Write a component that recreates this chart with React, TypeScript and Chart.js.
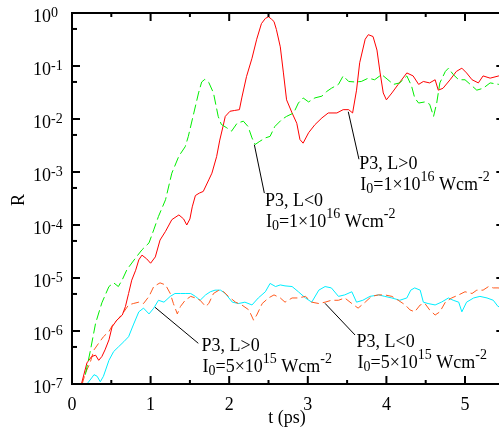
import React, { useEffect, useRef } from "react";
import { Chart, registerables } from "chart.js";

Chart.register(...registerables);

// ---- Data (t in ps, R) ----
const tRed = [0.12,0.19,0.25,0.30,0.34,0.38,0.42,0.47,0.51,0.57,0.64,0.68,0.72,0.76,0.81,0.85,0.89,0.95,1.00,1.06,1.12,1.19,1.27,1.36,1.42,1.46,1.50,1.53,1.57,1.62,1.67,1.74,1.78,1.84,1.88,1.92,1.95,2.01,2.07,2.13,2.16,2.22,2.29,2.35,2.41,2.46,2.50,2.54,2.57,2.60,2.65,2.69,2.73,2.80,2.86,2.90,2.94,3.01,3.09,3.18,3.26,3.37,3.45,3.52,3.57,3.62,3.66,3.73,3.77,3.83,3.88,3.92,3.96,4.00,4.07,4.15,4.26,4.34,4.41,4.47,4.55,4.62,4.66,4.72,4.81,4.89,4.96,5.02,5.09,5.17,5.23,5.32,5.43,5.50];
const rRed = [1.0e-7,2.5e-7,3.3e-7,3.5e-7,2.8e-7,3.3e-7,4.4e-7,6.8e-7,1.2e-6,1.6e-6,2.0e-6,2.9e-6,5.1e-6,9.1e-6,1.4e-5,2.2e-5,2.7e-5,2.3e-5,1.9e-5,2.5e-5,5.2e-5,7.6e-5,1.26e-4,1.55e-4,1.3e-4,1.0e-4,1.3e-4,2.2e-4,3.6e-4,4.0e-4,4.3e-4,7.1e-4,9.5e-4,1.95e-3,4.0e-3,7.1e-3,1.12e-2,1.4e-2,1.45e-2,1.5e-2,2.5e-2,6.3e-2,0.14,0.32,0.63,0.79,0.85,0.76,0.69,0.49,0.23,7.4e-2,2.3e-2,1.3e-2,8.3e-3,4.1e-3,3.5e-3,5.5e-3,7.8e-3,1.05e-2,1.3e-2,1.3e-2,1.5e-2,1.5e-2,1.3e-2,3.5e-2,0.115,0.32,0.39,0.36,0.20,7.4e-2,3.1e-2,2.3e-2,3.1e-2,4.5e-2,7.4e-2,6.5e-2,4.5e-2,5.1e-2,4.8e-2,5.5e-2,3.5e-2,3.8e-2,5.5e-2,7.9e-2,9.1e-2,7.4e-2,5.5e-2,4.8e-2,6.5e-2,5.9e-2,6.5e-2,6.2e-2];

const tGreen = [0.17,0.23,0.30,0.38,0.47,0.53,0.59,0.64,0.70,0.81,0.89,0.98,1.04,1.10,1.19,1.27,1.36,1.44,1.48,1.55,1.61,1.65,1.69,1.74,1.80,1.86,1.90,1.97,2.03,2.10,2.18,2.24,2.29,2.33,2.39,2.46,2.52,2.58,2.67,2.73,2.82,2.88,2.94,3.01,3.09,3.18,3.24,3.30,3.39,3.45,3.52,3.60,3.68,3.77,3.85,3.94,4.02,4.09,4.17,4.26,4.32,4.36,4.41,4.49,4.55,4.60,4.64,4.68,4.75,4.79,4.85,4.92,5.00,5.09,5.15,5.23,5.32,5.43,5.50];
const rGreen = [1.5e-7,4.0e-7,1.4e-6,3.4e-6,6.9e-6,8.1e-6,6.9e-6,9.3e-6,1.45e-5,2.4e-5,3.4e-5,4.6e-5,8.1e-5,1.45e-4,3.0e-4,9.5e-4,2.0e-3,3.0e-3,4.7e-3,1.3e-2,3.1e-2,5.0e-2,5.6e-2,4.9e-2,3.1e-2,1.12e-2,7.9e-3,6.8e-3,5.9e-3,8.3e-3,9.1e-3,7.2e-3,4.4e-3,3.3e-3,3.8e-3,4.4e-3,4.7e-3,7.2e-3,9.8e-3,1.12e-2,1.3e-2,2.0e-2,2.5e-2,2.1e-2,2.5e-2,2.7e-2,3.3e-2,3.8e-2,4.5e-2,6.5e-2,5.1e-2,5.0e-2,5.1e-2,5.9e-2,5.5e-2,6.9e-2,5.5e-2,4.5e-2,4.8e-2,6.5e-2,4.2e-2,2.5e-2,2.0e-2,2.1e-2,1.9e-2,1.12e-2,2.0e-2,4.8e-2,7.9e-2,9.1e-2,6.9e-2,5.5e-2,5.5e-2,4.2e-2,3.5e-2,3.8e-2,4.8e-2,4.5e-2,4.4e-2];

const tOrange = [0.13,0.17,0.23,0.28,0.34,0.40,0.47,0.53,0.59,0.66,0.72,0.78,0.85,0.91,0.98,1.04,1.12,1.19,1.25,1.29,1.34,1.38,1.44,1.51,1.57,1.63,1.70,1.74,1.80,1.87,1.93,1.99,2.08,2.16,2.25,2.31,2.35,2.42,2.50,2.57,2.65,2.71,2.80,2.88,2.97,3.05,3.14,3.22,3.30,3.39,3.47,3.56,3.64,3.73,3.81,3.90,3.98,4.07,4.15,4.24,4.30,4.36,4.43,4.49,4.55,4.62,4.68,4.75,4.83,4.92,5.00,5.09,5.15,5.23,5.30,5.36,5.42,5.50];
const rOrange = [1.0e-7,1.6e-7,2.5e-7,4.4e-7,5.9e-7,7.8e-7,9.8e-7,1.4e-6,1.7e-6,2.3e-6,3.1e-6,3.3e-6,3.5e-6,3.3e-6,4.5e-6,6.9e-6,8.1e-6,7.4e-6,5.1e-6,3.3e-6,2.1e-6,2.9e-6,3.8e-6,4.5e-6,4.2e-6,3.8e-6,2.9e-6,3.3e-6,5.1e-6,5.9e-6,5.5e-6,4.5e-6,3.5e-6,3.1e-6,2.5e-6,1.6e-6,2.0e-6,3.3e-6,4.2e-6,4.8e-6,4.2e-6,3.5e-6,4.2e-6,4.2e-6,4.5e-6,3.5e-6,3.3e-6,3.5e-6,3.8e-6,3.8e-6,4.2e-6,3.3e-6,2.7e-6,3.5e-6,4.5e-6,4.8e-6,4.8e-6,4.5e-6,3.8e-6,3.1e-6,2.5e-6,2.3e-6,3.1e-6,3.3e-6,2.5e-6,2.0e-6,2.3e-6,3.5e-6,4.2e-6,4.8e-6,5.5e-6,5.1e-6,5.9e-6,5.9e-6,6.9e-6,6.5e-6,6.5e-6,6.3e-6];

const tCyan = [0.19,0.25,0.28,0.32,0.36,0.40,0.47,0.53,0.59,0.66,0.72,0.78,0.85,0.91,0.98,1.04,1.10,1.17,1.25,1.31,1.38,1.44,1.51,1.57,1.63,1.70,1.76,1.82,1.89,1.95,2.04,2.12,2.20,2.29,2.37,2.46,2.52,2.59,2.65,2.71,2.80,2.88,2.97,3.05,3.14,3.22,3.30,3.39,3.47,3.56,3.62,3.70,3.79,3.90,3.98,4.07,4.17,4.26,4.31,4.36,4.43,4.47,4.53,4.62,4.70,4.79,4.85,4.92,4.96,5.02,5.11,5.19,5.28,5.36,5.42,5.50];
const rCyan = [1.0e-7,1.3e-7,1.5e-7,1.4e-7,1.1e-7,1.4e-7,2.8e-7,4.1e-7,5.0e-7,6.3e-7,7.8e-7,1.3e-6,2.3e-6,2.7e-6,2.1e-6,2.7e-6,3.8e-6,3.5e-6,4.5e-6,5.1e-6,5.1e-6,5.1e-6,5.1e-6,4.5e-6,3.8e-6,4.8e-6,5.5e-6,5.9e-6,5.9e-6,5.1e-6,3.5e-6,3.3e-6,3.5e-6,3.1e-6,4.2e-6,5.5e-6,7.9e-6,6.9e-6,7.4e-6,7.1e-6,6.9e-6,5.5e-6,4.2e-6,3.5e-6,5.9e-6,6.9e-6,6.5e-6,4.5e-6,4.8e-6,5.5e-6,3.5e-6,3.8e-6,4.5e-6,4.8e-6,4.5e-6,4.2e-6,3.8e-6,4.2e-6,5.9e-6,6.5e-6,5.9e-6,3.5e-6,3.3e-6,3.1e-6,3.5e-6,4.2e-6,3.8e-6,3.5e-6,2.3e-6,3.5e-6,4.2e-6,4.5e-6,4.2e-6,3.8e-6,2.9e-6,2.8e-6];

// ---- Axes ----
const xMin = 0;
const xMax = 5.5;
const yMin = 1e-7;
const yMax = 1;
const xTickValues = [0, 1, 2, 3, 4, 5];
const xTickLabels = ["0", "1", "2", "3", "4", "5"];
const xMinorTicks = [0.5, 1.5, 2.5, 3.5, 4.5];
const yTickValues = [1, 1e-1, 1e-2, 1e-3, 1e-4, 1e-5, 1e-6, 1e-7];
const yTickExponents = ["0", "-1", "-2", "-3", "-4", "-5", "-6", "-7"];
const yMinorTicks = [5e-1, 5e-2, 5e-3, 5e-4, 5e-5, 5e-6, 5e-7];
const xTitle = "t (ps)";
const yTitle = "R";

// ---- Annotations: pointer from -> to, text anchor (data coordinates) ----
const annotations = [
  { from: [2.32, 3.27e-3], to: [2.447, 4.0e-4], text: [2.455, 2.31e-4], label: "P3, L<0", mant: "1", exp: "16" },
  { from: [3.515, 1.37e-2], to: [3.651, 1.74e-3], text: [3.655, 1.12e-3], label: "P3, L>0", mant: "1", exp: "16" },
  { from: [1.056, 2.8e-6], to: [1.607, 5.86e-7], text: [1.648, 4.25e-7], label: "P3, L>0", mant: "5", exp: "15" },
  { from: [3.219, 3.33e-6], to: [3.601, 8.4e-7], text: [3.62, 5.06e-7], label: "P3, L<0", mant: "5", exp: "15" },
];

const FONT = '"Liberation Serif", "DejaVu Serif", serif';

function pts(t: number[], r: number[]) {
  return t.map((v, i) => ({ x: v, y: r[i] }));
}

type Seg = { s: string; size: number; dy: number };

function drawRich(ctx: CanvasRenderingContext2D, x: number, y: number, segs: Seg[]) {
  let cx = x;
  for (const g of segs) {
    ctx.font = `${g.size}px ${FONT}`;
    ctx.fillText(g.s, cx, y + g.dy);
    cx += ctx.measureText(g.s).width;
  }
}

const framePlugin = {
  id: "gnuframe",
  afterDatasetsDraw(chart: any) {
    const ctx: CanvasRenderingContext2D = chart.ctx;
    const { left, right, top, bottom } = chart.chartArea;
    const xs = chart.scales.x;
    const ys = chart.scales.y;
    ctx.save();
    ctx.strokeStyle = "#000";
    ctx.fillStyle = "#000";
    ctx.lineWidth = 2;
    const seg = (x1: number, y1: number, x2: number, y2: number) => {
      ctx.beginPath();
      ctx.moveTo(x1, y1);
      ctx.lineTo(x2, y2);
      ctx.stroke();
    };
    // x ticks (inward, bottom and top)
    for (const v of xTickValues) {
      const px = xs.getPixelForValue(v);
      seg(px, bottom, px, bottom - 8);
      seg(px, top, px, top + 8);
    }
    for (const v of xMinorTicks) {
      const px = xs.getPixelForValue(v);
      seg(px, bottom, px, bottom - 4);
      seg(px, top, px, top + 4);
    }
    // y ticks (inward, left and right)
    for (const v of yTickValues) {
      const py = ys.getPixelForValue(v);
      seg(left, py, left + 8, py);
      seg(right, py, right - 8, py);
    }
    for (const v of yMinorTicks) {
      const py = ys.getPixelForValue(v);
      seg(left, py, left + 5, py);
      seg(right, py, right - 5, py);
    }
    // frame
    ctx.strokeRect(left, top, right - left, bottom - top);

    // x tick labels
    ctx.textBaseline = "alphabetic";
    ctx.textAlign = "center";
    ctx.font = `18px ${FONT}`;
    xTickValues.forEach((v, i) => {
      ctx.fillText(xTickLabels[i], xs.getPixelForValue(v), bottom + 26);
    });
    // y tick labels 10^n
    ctx.textAlign = "left";
    yTickValues.forEach((v, i) => {
      const py = ys.getPixelForValue(v);
      drawRich(ctx, 33, py + 9, [
        { s: "10", size: 18, dy: 0 },
        { s: yTickExponents[i], size: 14, dy: -5 },
      ]);
    });
    // axis titles
    ctx.textAlign = "center";
    ctx.font = `18px ${FONT}`;
    ctx.fillText(xTitle, 287, 423);
    ctx.save();
    ctx.translate(24, 200);
    ctx.rotate(-Math.PI / 2);
    ctx.fillText(yTitle, 0, 0);
    ctx.restore();

    // annotations
    ctx.textAlign = "left";
    ctx.lineWidth = 1;
    for (const a of annotations) {
      const fx = xs.getPixelForValue(a.from[0]);
      const fy = ys.getPixelForValue(a.from[1]);
      const tx = xs.getPixelForValue(a.to[0]);
      const ty = ys.getPixelForValue(a.to[1]);
      seg(fx, fy, tx, ty);
      const ax = xs.getPixelForValue(a.text[0]);
      const ay = ys.getPixelForValue(a.text[1]);
      ctx.font = `18px ${FONT}`;
      ctx.fillText(a.label, ax, ay);
      drawRich(ctx, ax + 1, ay + 21, [
        { s: "I", size: 18, dy: 0 },
        { s: "0", size: 14, dy: 3 },
        { s: "=" + a.mant + "\u00d710", size: 18, dy: 0 },
        { s: a.exp, size: 14, dy: -9 },
        { s: " Wcm", size: 18, dy: 0 },
        { s: "-2", size: 14, dy: -9 },
      ]);
    }
    ctx.restore();
  },
};

export default function App() {
  const ref = useRef<HTMLCanvasElement | null>(null);
  useEffect(() => {
    document.body.style.margin = "0";
    if (!ref.current) return;
    const chart = new Chart(ref.current, {
      type: "line",
      data: {
        datasets: [
          { data: pts(tGreen, rGreen), borderColor: "#00ee00", borderWidth: 1, borderDash: [10, 4], pointRadius: 0, tension: 0, fill: false },
          { data: pts(tRed, rRed), borderColor: "#ff0000", borderWidth: 1, pointRadius: 0, tension: 0, fill: false },
          { data: pts(tOrange, rOrange), borderColor: "#ff5a1e", borderWidth: 1, borderDash: [8, 4], pointRadius: 0, tension: 0, fill: false },
          { data: pts(tCyan, rCyan), borderColor: "#00eeff", borderWidth: 1, pointRadius: 0, tension: 0, fill: false },
        ],
      },
      options: {
        responsive: false,
        animation: false,
        events: [],
        layout: { padding: { left: 72, top: 13, right: 512 - 504.3, bottom: 442 - 384 } },
        plugins: { legend: { display: false }, tooltip: { enabled: false } },
        scales: {
          x: { type: "linear", min: xMin, max: xMax, display: false },
          y: { type: "logarithmic", min: yMin, max: yMax, display: false },
        },
      },
      plugins: [framePlugin],
    });
    return () => chart.destroy();
  }, []);
  return (
    <div style={{ position: "fixed", left: 0, top: 0, width: 499, height: 442, overflow: "hidden", background: "#fff" }}>
      <canvas ref={ref} width={512} height={442} style={{ width: 512, height: 442, display: "block" }} />
    </div>
  );
}
